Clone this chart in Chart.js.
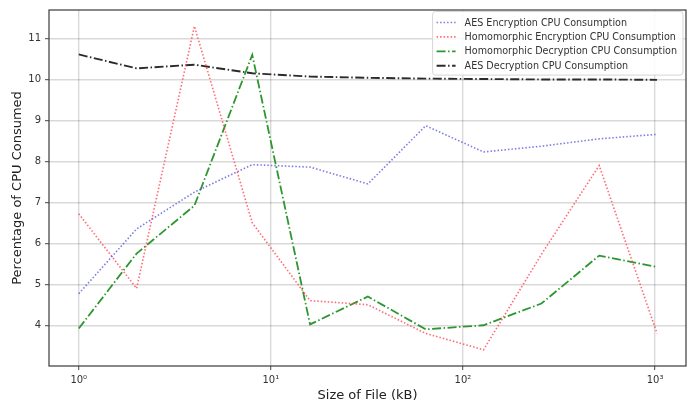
<!DOCTYPE html>
<html>
<head>
<meta charset="utf-8">
<script src="https://cdn.jsdelivr.net/npm/chart.js@4/dist/chart.umd.min.js"></script>
<style>
html,body{margin:0;padding:0;background:#fff;}
#wrap{width:694px;height:406px;position:relative;}
</style>
</head>
<body>
<div id="wrap"><canvas id="c" width="694" height="406"></canvas></div>
<script>
const fileSizes = [1, 2, 4, 8, 16, 32, 64, 128, 256, 512, 1024];
const aesEncryption = [4.77, 6.35, 7.25, 7.92, 7.86, 7.45, 8.87, 8.23, 8.37, 8.55, 8.66];
const homEncryption = [6.72, 4.9, 11.3, 6.5, 4.6, 4.5, 3.8, 3.4, 5.73, 7.9, 3.8];
const homDecryption = [3.92, 5.75, 6.92, 10.6, 4.02, 4.7, 3.9, 4.0, 4.53, 5.7, 5.42];
const aesDecryption = [10.61, 10.27, 10.36, 10.15, 10.07, 10.04, 10.02, 10.01, 10.0, 10.0, 9.99];
const seriesNames = [
  'AES Encryption CPU Consumption',
  'Homomorphic Encryption CPU Consumption',
  'Homomorphic Decryption CPU Consumption',
  'AES Decryption CPU Consumption'
];
const xTickValues = [1, 10, 100, 1000];
const xTickLabels = ['10\u2070', '10\u00B9', '10\u00B2', '10\u00B3'];
const yTickValues = [4, 5, 6, 7, 8, 9, 10, 11];

const FONT = "'DejaVu Sans', sans-serif";

function pts(vals){ return fileSizes.map((x,i)=>({x:x, y:vals[i]})); }

const styles = [
  {color:'rgba(80,80,215,0.75)', dash:[1.5,2], width:1.6},
  {color:'rgba(255,70,80,0.8)', dash:[1.5,2], width:1.6},
  {color:'#2e962e', dash:[9,2.5,1.5,2.5], width:1.8},
  {color:'#2b2b2b', dash:[9,2.5,1.5,2.5], width:1.9}
];
const allVals = [aesEncryption, homEncryption, homDecryption, aesDecryption];

const datasets = allVals.map((v,i)=>({
  label: seriesNames[i],
  data: pts(v),
  borderColor: styles[i].color,
  backgroundColor: styles[i].color,
  borderDash: styles[i].dash,
  borderWidth: styles[i].width,
  pointRadius: 0,
  tension: 0,
  fill: false
}));

const framePlugin = {
  id: 'frame',
  afterDatasetsDraw(chart){
    const {ctx, chartArea:a} = chart;
    ctx.save();
    ctx.strokeStyle = '#3a3a3a';
    ctx.lineWidth = 1.2;
    ctx.setLineDash([]);
    ctx.strokeRect(a.left, a.top, a.right - a.left, a.bottom - a.top);
    ctx.restore();
  },
  afterDraw(chart){
    const {ctx, chartArea:a} = chart;
    const fs = 9.6;
    ctx.save();
    ctx.font = fs + 'px ' + FONT;
    let maxW = 0;
    seriesNames.forEach(n=>{ maxW = Math.max(maxW, ctx.measureText(n).width); });
    const rowH = 14.4;
    const boxR = a.right - 3;
    const boxW = 32 + maxW + 6;
    const boxL = boxR - boxW;
    const boxT = a.top + 1.5;
    const boxH = rowH * seriesNames.length + 6;
    ctx.beginPath();
    const r = 3;
    ctx.moveTo(boxL + r, boxT);
    ctx.lineTo(boxR - r, boxT);
    ctx.quadraticCurveTo(boxR, boxT, boxR, boxT + r);
    ctx.lineTo(boxR, boxT + boxH - r);
    ctx.quadraticCurveTo(boxR, boxT + boxH, boxR - r, boxT + boxH);
    ctx.lineTo(boxL + r, boxT + boxH);
    ctx.quadraticCurveTo(boxL, boxT + boxH, boxL, boxT + boxH - r);
    ctx.lineTo(boxL, boxT + r);
    ctx.quadraticCurveTo(boxL, boxT, boxL + r, boxT);
    ctx.closePath();
    ctx.fillStyle = 'rgba(255,255,255,0.82)';
    ctx.fill();
    ctx.strokeStyle = '#d6d6d6';
    ctx.lineWidth = 1;
    ctx.setLineDash([]);
    ctx.stroke();
    chart.data.datasets.forEach((ds, i)=>{
      const y = boxT + 11 + rowH * i;
      ctx.beginPath();
      ctx.strokeStyle = ds.borderColor;
      ctx.lineWidth = ds.borderWidth;
      ctx.setLineDash(ds.borderDash);
      ctx.moveTo(boxL + 4, y);
      ctx.lineTo(boxL + 23, y);
      ctx.stroke();
      ctx.setLineDash([]);
      ctx.fillStyle = '#333';
      ctx.textBaseline = 'middle';
      ctx.textAlign = 'left';
      ctx.fillText(ds.label, boxL + 32, y + 0.5);
    });
    ctx.restore();
  }
};

new Chart(document.getElementById('c'), {
  type: 'line',
  data: { datasets },
  options: {
    responsive: false,
    animation: false,
    devicePixelRatio: 1,
    layout: { padding: { left: 0, top: 7, right: 8, bottom: 0 } },
    plugins: { legend: { display: false }, tooltip: { enabled: false } },
    scales: {
      x: {
        type: 'logarithmic',
        min: 0.707,
        max: 1449,
        afterBuildTicks(scale){ scale.ticks = xTickValues.map(v=>({value:v})); },
        afterFit(scale){ scale.height = 40; },
        ticks: {
          autoSkip: false,
          maxRotation: 0,
          padding: 4,
          color: '#333',
          font: { family: FONT, size: 10 },
          callback(v){ const k = xTickValues.indexOf(v); return k >= 0 ? xTickLabels[k] : ''; }
        },
        grid: { color: 'rgba(0,0,0,0.15)', lineWidth: 1.4, tickLength: 4, tickColor: '#444', tickWidth: 1 },
        border: { display: false },
        title: { display: true, text: 'Size of File (kB)', color: '#222', font: { family: FONT, size: 13 }, padding: { top: 0, bottom: 3 } }
      },
      y: {
        type: 'linear',
        min: 3.005,
        max: 11.695,
        afterBuildTicks(scale){ scale.ticks = yTickValues.map(v=>({value:v})); },
        afterFit(scale){ scale.width = 49; },
        ticks: {
          padding: 4,
          color: '#333',
          font: { family: FONT, size: 10 },
          callback(v){ return String(v); }
        },
        grid: { color: 'rgba(0,0,0,0.15)', lineWidth: 1.4, tickLength: 4, tickColor: '#444', tickWidth: 1 },
        border: { display: false },
        title: { display: true, text: 'Percentage of CPU Consumed', color: '#222', font: { family: FONT, size: 13 }, padding: { top: 10, bottom: 0 } }
      }
    }
  },
  plugins: [framePlugin]
});
</script>
</body>
</html>
